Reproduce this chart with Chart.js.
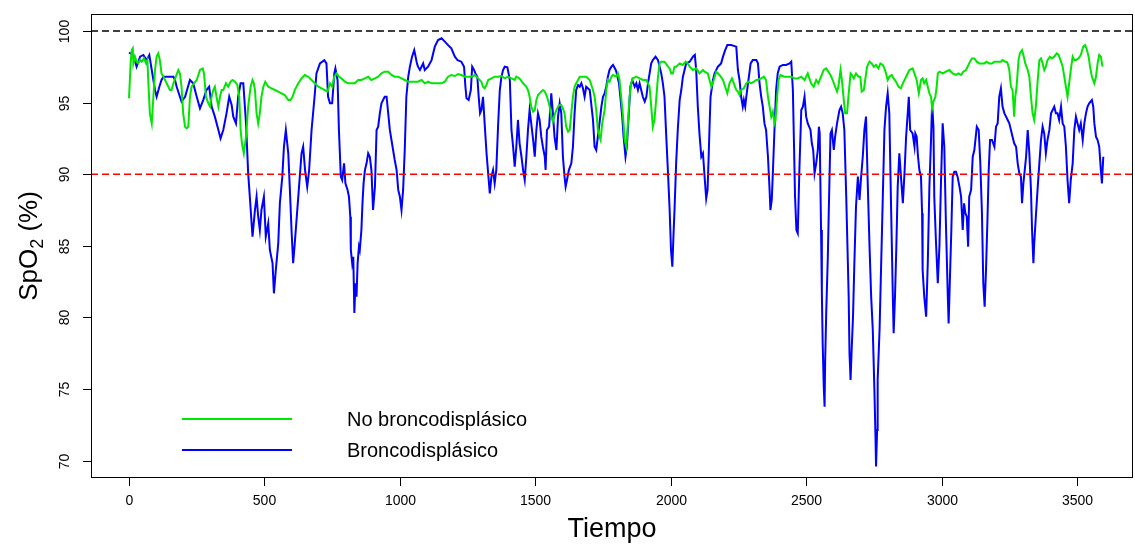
<!DOCTYPE html>
<html><head><meta charset="utf-8">
<script src="https://cdn.jsdelivr.net/npm/chart.js@4/dist/chart.umd.min.js"></script>
<style>html,body{margin:0;padding:0;background:#fff;overflow:hidden}#wrap{width:1135px;height:545px;position:relative}</style>
</head><body><div id="wrap"><canvas id="c" width="1135" height="545"></canvas></div>
<script>
const xTicks = [0, 500, 1000, 1500, 2000, 2500, 3000, 3500];
const yTicks = [70, 75, 80, 85, 90, 95, 100];
const xTitle = 'Tiempo';
const yTitleParts = ['SpO', '2', ' (%)'];
const legendLabels = ['No broncodisplásico', 'Broncodisplásico'];
const refLevels = [100, 90];

// [tiempo, SpO2] – No broncodisplásico (green)
const noBpd = [[0,95.3],[6,97.74],[10,98.67],[14,98.79],[16,97.74],[22,98.21],[28,97.86],[34,97.74],[41,97.98],[47,97.86],[55,98.09],[63,97.74],[68,97.98],[71,96.58],[77,94.25],[84,93.55],[90,95.41],[96,97.28],[102,98.21],[108,98.44],[114,97.97],[120,97.04],[127,96.81],[139,96.35],[151,95.88],[157,95.88],[164,96.35],[173,96.81],[182,97.28],[188,97.04],[194,96.11],[200,94.25],[207,93.32],[213,93.2],[219,93.32],[225,95.41],[231,96.11],[240,96.35],[250,96.58],[262,97.28],[272,97.39],[277,97.04],[284,95.41],[293,94.95],[299,94.72],[305,95.41],[311,95.88],[317,96.11],[323,95.41],[330,94.72],[336,95.41],[342,95.88],[348,95.88],[358,96.35],[366,96.11],[375,96.46],[382,96.58],[391,96.46],[400,96.23],[407,95.41],[412,93.09],[417,92.16],[424,91.46],[432,92.62],[440,94.72],[449,96.11],[456,96.58],[461,96.35],[465,95.88],[471,94.25],[477,93.55],[483,94.25],[489,95.41],[496,96.11],[503,96.46],[514,96.11],[526,96.0],[539,95.88],[551,95.77],[563,95.65],[575,95.53],[588,95.18],[596,95.18],[604,95.41],[612,95.88],[625,96.35],[637,96.69],[649,96.93],[662,96.81],[674,96.58],[686,96.35],[699,96.11],[711,96.0],[723,95.88],[733,95.77],[742,96.35],[750,96.11],[758,96.81],[766,97.04],[775,96.81],[785,96.69],[797,96.46],[809,96.35],[821,96.35],[834,96.35],[846,96.58],[858,96.58],[871,96.69],[883,96.81],[895,96.58],[908,96.69],[920,96.81],[932,97.04],[944,97.16],[957,97.16],[969,96.93],[981,96.81],[994,96.81],[1006,96.69],[1018,96.58],[1031,96.46],[1043,96.46],[1055,96.46],[1067,96.46],[1080,96.58],[1092,96.35],[1104,96.46],[1117,96.35],[1129,96.35],[1141,96.35],[1154,96.35],[1166,96.46],[1178,96.81],[1190,96.93],[1203,96.86],[1215,97.0],[1227,96.93],[1240,96.81],[1252,96.81],[1264,96.81],[1277,96.93],[1289,96.69],[1301,96.46],[1307,96.11],[1313,96.0],[1320,96.23],[1326,96.58],[1338,96.69],[1350,96.81],[1363,96.81],[1375,96.86],[1387,96.69],[1399,96.81],[1412,96.69],[1424,96.58],[1430,96.81],[1442,96.69],[1455,96.35],[1467,96.11],[1473,95.88],[1479,95.41],[1485,94.72],[1492,94.37],[1498,94.48],[1504,95.18],[1510,95.53],[1516,95.65],[1522,95.77],[1528,95.88],[1535,95.77],[1541,95.53],[1547,95.18],[1553,94.72],[1559,94.02],[1565,93.67],[1571,94.14],[1578,94.48],[1584,94.72],[1590,94.83],[1596,94.83],[1602,94.6],[1608,94.25],[1614,93.32],[1621,92.97],[1627,93.09],[1633,94.25],[1639,95.41],[1645,96.11],[1651,96.35],[1658,96.58],[1664,96.81],[1676,96.81],[1688,96.81],[1701,96.58],[1713,95.88],[1719,95.41],[1725,94.48],[1731,93.09],[1737,92.62],[1741,92.39],[1747,93.55],[1756,94.48],[1762,95.88],[1768,96.58],[1774,96.46],[1781,96.81],[1787,96.93],[1799,96.81],[1805,97.04],[1811,96.58],[1817,95.41],[1824,94.02],[1830,92.39],[1836,91.92],[1842,93.55],[1848,95.41],[1854,96.35],[1860,96.69],[1873,96.81],[1885,96.69],[1897,96.58],[1910,96.58],[1922,96.11],[1928,94.72],[1934,93.32],[1940,93.79],[1947,95.41],[1953,96.81],[1959,97.74],[1965,97.86],[1977,97.86],[1990,97.51],[1996,97.39],[2002,97.04],[2008,97.04],[2014,97.51],[2020,97.51],[2033,97.74],[2045,97.63],[2055,97.86],[2063,97.74],[2070,97.51],[2082,97.28],[2094,97.39],[2106,97.04],[2119,97.28],[2125,97.16],[2137,97.04],[2150,96.11],[2159,96.58],[2168,97.16],[2180,96.93],[2193,96.58],[2201,96.11],[2209,95.65],[2217,96.35],[2226,96.69],[2233,96.35],[2242,95.88],[2248,95.77],[2254,95.53],[2260,95.88],[2270,96.0],[2279,96.35],[2287,96.46],[2297,96.35],[2307,96.46],[2316,96.58],[2324,96.62],[2334,96.69],[2344,96.81],[2352,96.58],[2359,95.41],[2365,94.72],[2371,94.02],[2377,94.37],[2383,93.55],[2387,93.79],[2393,95.41],[2398,96.58],[2405,96.93],[2420,96.81],[2432,96.81],[2445,96.81],[2457,96.69],[2469,96.69],[2482,96.81],[2494,96.58],[2506,97.04],[2518,96.35],[2528,96.11],[2537,96.58],[2545,96.35],[2555,96.81],[2565,97.28],[2574,97.39],[2582,97.16],[2590,96.93],[2598,96.58],[2607,96.11],[2614,95.77],[2619,96.11],[2627,97.28],[2632,96.58],[2639,95.18],[2644,94.25],[2651,94.25],[2656,95.41],[2664,97.04],[2669,96.93],[2676,96.69],[2684,97.04],[2693,96.81],[2700,96.81],[2705,95.77],[2713,95.88],[2718,96.58],[2725,97.51],[2734,97.86],[2742,97.74],[2750,97.51],[2758,97.63],[2767,97.39],[2774,97.74],[2783,97.63],[2789,97.39],[2795,97.04],[2801,96.58],[2807,96.81],[2816,96.93],[2823,96.69],[2832,96.46],[2841,96.11],[2850,96.0],[2857,96.35],[2869,96.81],[2881,97.28],[2893,97.39],[2900,97.04],[2908,96.58],[2916,95.65],[2920,96.11],[2924,96.58],[2930,96.69],[2936,96.35],[2943,96.58],[2949,96.11],[2955,95.65],[2961,95.41],[2965,94.6],[2970,95.07],[2977,95.41],[2982,96.11],[2986,97.04],[2992,97.16],[3004,97.04],[3016,97.16],[3029,97.28],[3035,97.16],[3041,97.04],[3053,96.93],[3063,97.04],[3072,96.93],[3080,97.16],[3090,97.28],[3096,97.51],[3105,97.86],[3112,98.09],[3121,98.09],[3130,97.86],[3139,97.74],[3149,97.74],[3158,97.74],[3166,97.86],[3176,97.74],[3186,97.74],[3195,97.86],[3203,97.86],[3213,97.86],[3219,97.86],[3225,97.97],[3235,97.86],[3240,97.86],[3244,97.74],[3250,97.28],[3256,96.11],[3262,95.88],[3268,94.02],[3272,95.41],[3277,96.11],[3284,97.97],[3289,98.44],[3297,98.67],[3302,98.33],[3309,97.74],[3318,97.28],[3324,96.81],[3330,95.41],[3336,94.25],[3342,93.79],[3348,94.72],[3355,96.58],[3361,97.97],[3367,98.09],[3373,97.74],[3379,97.28],[3385,97.51],[3391,97.97],[3400,98.21],[3407,98.09],[3416,98.21],[3425,98.44],[3432,98.33],[3441,97.86],[3447,97.51],[3453,96.81],[3459,96.11],[3465,95.41],[3471,96.35],[3477,97.28],[3484,98.21],[3490,97.97],[3496,97.97],[3506,98.09],[3514,98.33],[3523,98.91],[3530,99.02],[3535,98.79],[3543,98.21],[3548,97.51],[3555,96.81],[3564,96.35],[3570,96.81],[3576,97.74],[3582,98.33],[3588,98.21],[3594,97.51]];

// [tiempo, SpO2] – Broncodisplásico (blue)
const bpd = [[0,98.5],[16,98.32],[28,97.51],[41,98.21],[53,98.33],[65,97.98],[75,98.33],[84,97.28],[96,95.88],[102,95.41],[112,96.11],[120,96.58],[127,96.81],[164,96.81],[170,96.58],[176,96.11],[188,95.41],[194,95.07],[207,95.41],[225,96.58],[237,96.35],[250,95.41],[262,94.6],[274,95.18],[286,95.88],[296,96.11],[305,94.72],[317,94.02],[330,93.09],[338,92.5],[348,93.09],[360,94.25],[370,95.41],[379,94.83],[385,94.02],[395,93.55],[403,95.41],[412,96.35],[422,96.35],[432,93.55],[440,90.06],[446,88.43],[456,85.64],[465,87.5],[471,88.43],[477,87.03],[483,86.1],[489,87.5],[498,88.43],[505,85.64],[514,86.57],[520,84.71],[530,83.78],[535,81.68],[542,83.31],[551,85.17],[557,87.97],[566,89.83],[572,91.92],[579,93.09],[588,91.46],[594,88.9],[600,86.1],[606,83.78],[612,85.17],[625,88.43],[637,91.46],[643,91.92],[650,90.29],[658,89.13],[665,90.29],[674,93.09],[686,95.6],[692,97.04],[705,97.74],[721,97.97],[729,97.74],[735,95.41],[742,94.95],[750,94.95],[758,97.04],[762,97.39],[770,96.58],[775,93.09],[782,89.83],[787,89.6],[794,90.76],[799,89.36],[807,88.9],[812,88.43],[817,87.03],[819,84.71],[824,83.78],[828,84.24],[832,80.3],[836,82.38],[840,81.45],[844,83.78],[849,84.94],[852,84.71],[858,86.1],[862,87.97],[866,89.36],[871,90.29],[877,90.76],[883,91.46],[889,91.22],[895,90.29],[901,87.5],[908,89.13],[914,93.09],[920,93.32],[926,94.25],[932,94.95],[944,95.41],[951,95.41],[957,94.25],[963,93.09],[969,92.39],[975,91.69],[981,90.99],[988,90.29],[994,88.9],[1000,88.43],[1006,87.5],[1012,88.9],[1018,91.69],[1024,95.41],[1031,96.81],[1037,97.51],[1045,98.21],[1053,98.67],[1058,98.21],[1063,97.74],[1067,97.51],[1074,97.28],[1080,97.51],[1086,97.74],[1092,97.28],[1104,97.51],[1117,97.97],[1129,98.91],[1141,99.37],[1154,99.49],[1166,99.26],[1178,99.02],[1190,98.79],[1203,98.21],[1213,97.97],[1227,97.86],[1237,97.51],[1242,96.11],[1246,95.3],[1254,95.18],[1262,95.88],[1267,97.51],[1274,97.28],[1279,97.04],[1286,96.81],[1291,95.41],[1296,94.25],[1301,94.48],[1307,95.41],[1313,93.55],[1320,91.46],[1326,90.06],[1332,88.66],[1338,89.83],[1344,90.29],[1350,89.36],[1356,90.29],[1363,93.55],[1369,95.88],[1375,96.81],[1381,97.28],[1387,97.51],[1397,97.46],[1406,96.58],[1412,93.09],[1418,91.92],[1424,90.53],[1430,91.92],[1436,93.79],[1442,92.16],[1449,91.22],[1455,90.29],[1461,89.6],[1467,91.22],[1473,93.09],[1479,94.48],[1485,93.55],[1492,92.39],[1498,91.22],[1504,93.09],[1510,94.25],[1516,93.79],[1522,92.62],[1528,91.92],[1535,91.22],[1538,90.29],[1543,93.09],[1551,93.32],[1559,95.65],[1565,94.25],[1571,92.62],[1578,91.69],[1584,94.02],[1590,94.95],[1596,94.25],[1602,91.22],[1608,89.83],[1612,89.13],[1617,89.6],[1624,90.29],[1633,90.76],[1639,91.92],[1645,94.25],[1651,95.88],[1658,96.23],[1664,96.11],[1670,96.35],[1676,96.0],[1682,95.41],[1688,96.11],[1701,95.88],[1713,93.79],[1719,91.92],[1725,91.69],[1731,92.62],[1737,93.55],[1744,94.72],[1750,95.41],[1756,95.65],[1762,96.11],[1768,96.81],[1774,97.28],[1781,97.51],[1787,97.63],[1797,97.28],[1801,97.04],[1809,96.35],[1814,95.41],[1821,94.02],[1826,92.62],[1833,91.22],[1838,91.92],[1846,94.48],[1851,96.11],[1858,96.58],[1867,96.11],[1873,96.35],[1879,95.88],[1885,96.35],[1891,95.88],[1897,95.41],[1904,95.07],[1910,95.41],[1916,96.35],[1922,97.04],[1928,97.74],[1934,97.97],[1944,98.21],[1953,97.97],[1959,97.51],[1965,97.04],[1971,96.35],[1977,95.41],[1983,92.85],[1990,90.06],[1996,87.5],[2001,84.71],[2006,83.54],[2010,85.64],[2014,87.5],[2020,90.76],[2026,93.09],[2033,95.18],[2039,95.88],[2045,96.81],[2051,97.28],[2057,97.74],[2070,97.86],[2082,98.21],[2089,98.33],[2094,97.28],[2100,94.72],[2106,92.85],[2113,91.22],[2119,91.46],[2125,89.83],[2131,88.3],[2136,88.9],[2140,91.2],[2143,93.09],[2147,95.41],[2156,96.58],[2162,97.04],[2174,97.51],[2186,97.74],[2193,98.21],[2201,98.67],[2209,99.02],[2223,99.02],[2242,98.91],[2248,97.28],[2254,96.58],[2260,95.41],[2266,94.72],[2270,95.18],[2275,94.72],[2279,95.41],[2287,96.58],[2295,97.74],[2303,97.97],[2316,97.97],[2322,97.74],[2328,96.35],[2334,95.41],[2340,94.72],[2346,93.55],[2352,93.09],[2359,91.22],[2365,88.9],[2368,87.5],[2373,88.2],[2377,90.06],[2383,93.09],[2389,95.88],[2395,97.04],[2402,97.51],[2414,97.63],[2426,97.63],[2439,97.74],[2445,97.86],[2451,95.88],[2454,93.09],[2459,88.43],[2464,86.1],[2469,85.87],[2475,90.29],[2482,94.48],[2488,94.72],[2494,95.41],[2500,94.02],[2506,93.55],[2516,93.09],[2521,92.16],[2526,91.69],[2531,90.06],[2537,90.76],[2543,91.69],[2547,93.32],[2550,92.85],[2555,86.1],[2558,81.68],[2561,78.19],[2565,75.16],[2568,73.76],[2570,76.79],[2574,80.28],[2580,84.24],[2586,89.6],[2590,92.85],[2595,93.09],[2602,91.69],[2607,92.62],[2614,93.55],[2623,94.48],[2629,94.72],[2635,94.25],[2641,93.09],[2648,88.43],[2654,83.78],[2657,81.45],[2660,77.49],[2664,75.63],[2668,77.72],[2673,80.05],[2678,83.78],[2684,87.73],[2691,89.83],[2697,88.2],[2703,89.83],[2709,91.22],[2715,93.09],[2721,94.02],[2727,89.6],[2734,84.94],[2740,81.45],[2746,79.12],[2752,74.93],[2756,71.67],[2758,69.58],[2762,72.14],[2764,75.63],[2771,79.12],[2777,83.78],[2783,88.43],[2789,93.09],[2795,94.72],[2801,95.65],[2807,94.25],[2814,87.27],[2820,81.45],[2823,78.89],[2828,81.45],[2833,84.94],[2838,89.13],[2844,91.46],[2850,89.83],[2857,87.97],[2863,90.06],[2869,92.62],[2875,94.25],[2879,95.41],[2884,93.09],[2887,93.09],[2893,92.85],[2900,91.92],[2903,92.85],[2908,92.62],[2913,91.22],[2918,90.29],[2924,89.83],[2928,87.27],[2930,83.31],[2936,81.45],[2943,80.05],[2949,83.78],[2955,89.13],[2961,92.39],[2965,94.95],[2970,93.32],[2973,88.43],[2979,85.4],[2986,82.38],[2992,84.94],[2998,89.6],[3004,93.55],[3010,91.92],[3016,86.57],[3023,81.45],[3026,79.58],[3031,82.84],[3036,86.1],[3041,89.83],[3047,90.18],[3053,90.18],[3059,89.83],[3066,89.13],[3072,88.43],[3078,86.1],[3083,87.97],[3088,87.27],[3093,87.03],[3098,84.94],[3102,88.43],[3109,88.9],[3115,91.22],[3121,91.69],[3130,93.32],[3137,93.09],[3143,90.76],[3149,87.27],[3154,82.38],[3159,80.75],[3164,83.31],[3169,86.57],[3174,90.29],[3179,92.39],[3186,92.39],[3195,91.92],[3201,93.32],[3207,93.55],[3213,95.41],[3219,95.99],[3225,94.72],[3232,94.25],[3238,94.02],[3244,93.79],[3250,93.55],[3256,93.09],[3262,92.62],[3268,92.16],[3275,91.92],[3281,90.76],[3287,90.06],[3293,89.83],[3297,87.97],[3302,89.36],[3307,90.29],[3312,91.22],[3318,93.09],[3324,91.46],[3330,88.9],[3334,86.1],[3339,83.78],[3342,85.17],[3348,87.03],[3355,89.13],[3361,90.76],[3367,92.39],[3373,93.32],[3379,92.85],[3385,91.46],[3391,92.39],[3398,93.09],[3404,94.25],[3410,94.48],[3416,94.72],[3422,94.25],[3428,94.25],[3434,93.79],[3441,94.72],[3447,93.55],[3453,93.32],[3459,91.92],[3465,89.6],[3471,87.97],[3477,89.6],[3484,90.76],[3490,93.09],[3496,94.02],[3502,93.55],[3508,93.09],[3514,93.55],[3521,92.39],[3527,93.55],[3533,94.25],[3539,94.72],[3545,94.95],[3555,95.18],[3560,94.72],[3564,93.55],[3570,92.62],[3576,92.39],[3582,91.92],[3588,90.29],[3592,89.36],[3597,91.22]];

const X_MIN = -140.3, X_MAX = 3706.7, Y_MIN = 68.78, Y_MAX = 101.19;
const FONT = '"Liberation Sans", Arial, Helvetica, sans-serif';
const toPts = arr => arr.map(p => ({x: p[0], y: p[1]}));

const rAxes = {
  id: 'rAxes',
  afterDraw(chart) {
    const ctx = chart.ctx, a = chart.chartArea;
    const xs = chart.scales.x, ys = chart.scales.y;
    ctx.save();
    ctx.strokeStyle = '#000'; ctx.lineWidth = 1;
    ctx.strokeRect(a.left + 0.5, a.top + 0.5, a.right - a.left - 1, a.bottom - a.top - 1);
    ctx.fillStyle = '#000';
    ctx.font = '14px ' + FONT;
    ctx.textAlign = 'center'; ctx.textBaseline = 'middle';
    xTicks.forEach(t => {
      const px = Math.round(xs.getPixelForValue(t)) + 0.5;
      ctx.beginPath(); ctx.moveTo(px, a.bottom); ctx.lineTo(px, a.bottom + 8); ctx.stroke();
      ctx.fillText(String(t), px, 501);
    });
    yTicks.forEach(v => {
      const py = Math.round(ys.getPixelForValue(v)) + 0.5;
      ctx.beginPath(); ctx.moveTo(a.left, py); ctx.lineTo(a.left - 8, py); ctx.stroke();
      ctx.save(); ctx.translate(65, py); ctx.rotate(-Math.PI / 2);
      ctx.fillText(String(v), 0, 0); ctx.restore();
    });
    // x title
    ctx.font = '27px ' + FONT;
    ctx.textBaseline = 'middle';
    ctx.fillText(xTitle, (a.left + a.right) / 2, 530);
    // y title with subscript
    ctx.save();
    ctx.translate(28, (a.top + a.bottom) / 2);
    ctx.rotate(-Math.PI / 2);
    ctx.textAlign = 'left'; ctx.textBaseline = 'alphabetic';
    const big = '26px ' + FONT, small = '18px ' + FONT;
    ctx.font = big; const w1 = ctx.measureText(yTitleParts[0]).width;
    ctx.font = small; const w2 = ctx.measureText(yTitleParts[1]).width;
    ctx.font = big; const w3 = ctx.measureText(yTitleParts[2]).width;
    let x0 = -(w1 + w2 + w3) / 2;
    ctx.font = big; ctx.fillText(yTitleParts[0], x0, 9);
    ctx.font = small; ctx.fillText(yTitleParts[1], x0 + w1, 15);
    ctx.font = big; ctx.fillText(yTitleParts[2], x0 + w1 + w2, 9);
    ctx.restore();
    // legend
    const cols = [chart.data.datasets[0].borderColor, chart.data.datasets[1].borderColor];
    const ly = [419, 450];
    ctx.font = '20px ' + FONT; ctx.textAlign = 'left'; ctx.textBaseline = 'middle';
    legendLabels.forEach((lab, i) => {
      ctx.strokeStyle = cols[i]; ctx.lineWidth = 2;
      ctx.beginPath(); ctx.moveTo(182, ly[i]); ctx.lineTo(292, ly[i]); ctx.stroke();
      ctx.fillStyle = '#000';
      ctx.fillText(lab, 347, ly[i] + 1);
    });
    ctx.restore();
  }
};

new Chart(document.getElementById('c'), {
  type: 'line',
  data: {
    datasets: [
      {label: legendLabels[0], data: toPts(noBpd), borderColor: '#00e600', borderWidth: 2, pointRadius: 0, tension: 0, order: 1},
      {label: legendLabels[1], data: toPts(bpd), borderColor: '#0000ff', borderWidth: 2, pointRadius: 0, tension: 0, order: 2},
      {label: 'ref100', data: [{x: X_MIN, y: refLevels[0]}, {x: X_MAX, y: refLevels[0]}], borderColor: '#000000', borderWidth: 1.6, borderDash: [7, 4], pointRadius: 0, order: 0},
      {label: 'ref90', data: [{x: X_MIN, y: refLevels[1]}, {x: X_MAX, y: refLevels[1]}], borderColor: '#ff0000', borderWidth: 1.6, borderDash: [7, 4], pointRadius: 0, order: 0}
    ]
  },
  options: {
    responsive: false, animation: false, devicePixelRatio: 1,
    layout: {padding: {top: 14, right: 2, left: 0, bottom: 0}},
    plugins: {legend: {display: false}, tooltip: {enabled: false}},
    scales: {
      x: {type: 'linear', min: X_MIN, max: X_MAX, afterFit(s) { s.height = 67; },
          ticks: {display: false}, grid: {display: false}, border: {display: false}},
      y: {type: 'linear', min: Y_MIN, max: Y_MAX, afterFit(s) { s.width = 91; },
          ticks: {display: false}, grid: {display: false}, border: {display: false}}
    }
  },
  plugins: [rAxes]
});
</script></body></html>
